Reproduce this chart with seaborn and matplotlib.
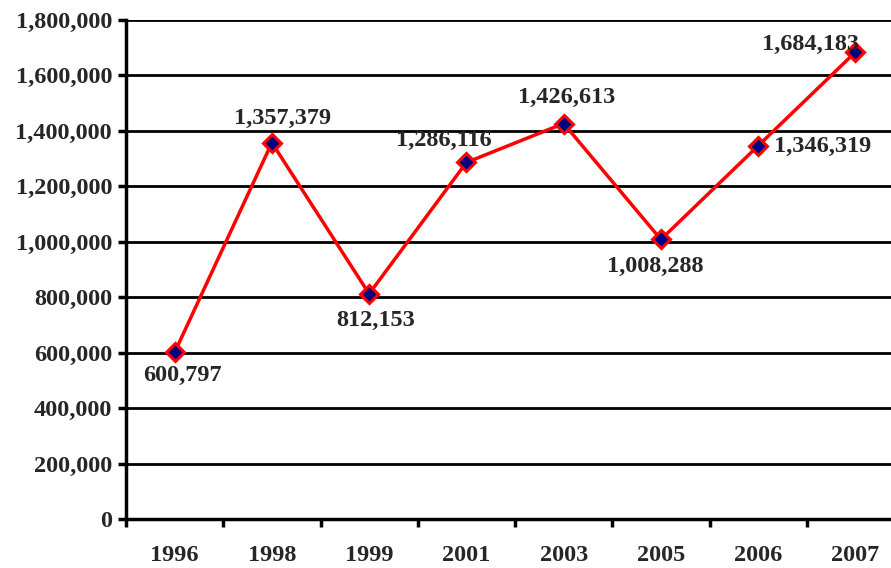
"""Line chart of yearly totals, 1996-2007."""

import pandas as pd
import matplotlib
matplotlib.use("Agg")
import matplotlib.pyplot as plt
from matplotlib.ticker import FuncFormatter, MultipleLocator
import seaborn as sns

years = ["1996", "1998", "1999", "2001", "2003", "2005", "2006", "2007"]
values = [600797, 1357379, 812153, 1286116, 1426613, 1008288, 1346319, 1684183]
# label offset (pixels) from each point
label_dx = [8, 11, 6, -23, 3, -6, 64, -45]
label_dy = [-23, 24, -27, 22, 26, -27, -1, 8]


def thousands(value: float, _: int) -> str:
  """Format tick with thousands separators."""
  return f"{value:,.0f}"


def main() -> None:
  sns.set_style("white")
  plt.rcParams["font.family"] = ["Liberation Serif", "DejaVu Serif"]
  plt.rcParams["font.weight"] = "bold"

  df = pd.DataFrame({"year": years, "value": values})

  fig = plt.figure(figsize=(8.91, 5.68), dpi=100)
  ax = fig.add_axes([126 / 891, 1 - 519 / 568, (891 - 126) / 891, 499 / 568])

  sns.lineplot(
    data=df,
    x="year",
    y="value",
    sort=False,
    color="#ff0000",
    linewidth=2.5,
    marker="D",
    markersize=9,
    markerfacecolor="#000080",
    markeredgecolor="#ff0000",
    markeredgewidth=2.2,
    ax=ax,
    zorder=3,
  )

  for i, (v, dx, dy) in enumerate(zip(values, label_dx, label_dy)):
    ax.annotate(
      f"{v:,}",
      (i, v),
      xytext=(dx, dy),
      textcoords="offset pixels",
      ha="center",
      va="center",
      fontsize=17.5,
      fontweight="bold",
      zorder=4,
    )

  # ticks between categories on x
  ax.set_xticks([i + 0.5 for i in range(-1, len(years))], minor=False)
  ax.set_xticklabels([])
  ax.set_xticks(range(len(years)), minor=True)
  ax.set_xticklabels(years, minor=True)
  ax.tick_params(axis="x", which="major", bottom=True, direction="out",
                 length=6, width=2.5, color="black")
  ax.tick_params(axis="x", which="minor", bottom=False, length=0, pad=19,
                 labelsize=17.5)
  ax.tick_params(axis="y", left=True, direction="out", length=6, width=2.5,
                 color="black", labelsize=17.5, pad=4)

  # Axes formatting
  ax.set_ylim(0, 1800000)
  ax.set_xlim(-0.5, 7.5 - 13 / 97)
  ax.yaxis.set_major_locator(MultipleLocator(200000))
  ax.yaxis.set_major_formatter(FuncFormatter(thousands))
  ax.grid(axis="y", color="black", linewidth=2)
  ax.set_axisbelow(True)
  ax.set_xlabel("")
  ax.set_ylabel("")
  for lbl in ax.get_xticklabels(minor=True) + ax.get_yticklabels():
    lbl.set_fontweight("bold")

  for side in ["top", "right"]:
    ax.spines[side].set_visible(False)
  for side in ["left", "bottom"]:
    ax.spines[side].set_color("black")
    ax.spines[side].set_linewidth(2.5)

  fig.savefig("out.png", dpi=100)


if __name__ == "__main__":
  main()
